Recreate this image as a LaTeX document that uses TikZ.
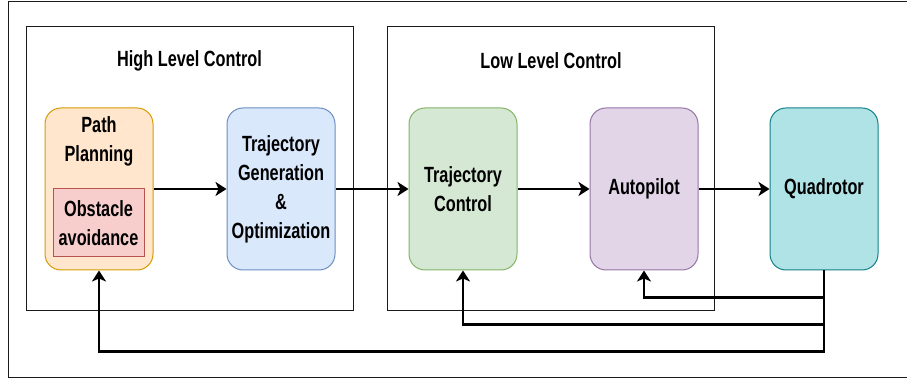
\documentclass[tikz,border=0pt]{standalone}
\usepackage{fontspec}
\setmainfont{Liberation Sans}[FakeStretch=0.74]
\usetikzlibrary{positioning,arrows.meta}
\definecolor{softorange}{HTML}{FFE6CC}
\definecolor{orange}{HTML}{D79B00}
\definecolor{softred}{HTML}{F8CECC}
\definecolor{red}{HTML}{B85450}
\definecolor{softblue}{HTML}{DAE8FC}
\definecolor{blue}{HTML}{6C8EBF}
\definecolor{softgreen}{HTML}{D5E8D4}
\definecolor{green}{HTML}{82B366}
\definecolor{softpurple}{HTML}{E1D5E7}
\definecolor{purple}{HTML}{9673A6}
\definecolor{softteal}{HTML}{B0E3E6}
\definecolor{teal}{HTML}{0E8088}
\definecolor{ink}{HTML}{1A1A1A}
\begin{document}
\begin{tikzpicture}[
  x=1pt,y=1pt,
  node distance=72pt,
  every node/.style={font=\bfseries\fontsize{22}{29}\selectfont,align=center,inner sep=0pt},
  frame/.style={draw=ink,line width=1pt,minimum width=327pt,minimum height=284pt},
  block/.style={rounded corners=16pt,line width=1pt,minimum width=108pt,minimum height=162pt},
  plan/.style={block,draw=orange,fill=softorange},
  obstacle/.style={draw=red,fill=softred,line width=1pt,minimum width=91pt,minimum height=68pt},
  gen/.style={block,draw=blue,fill=softblue},
  ctrl/.style={block,draw=green,fill=softgreen},
  pilot/.style={block,draw=purple,fill=softpurple},
  plant/.style={block,draw=teal,fill=softteal},
  arrow/.style={-{Stealth[length=11pt,width=14pt,inset=3pt]},line width=2.4pt,draw=black}
]
\useasboundingbox (0,0) rectangle (907,379);
\draw[draw=ink,line width=1pt] (8,1) rectangle (930,377);
% control groups
\node[frame] (high) at (189.5,210) {};
\node[frame] (low) at (551,210) {};
\node (hightitle) at ([yshift=-34pt]high.north) {High Level Control};
\node (lowtitle) at ([yshift=-34pt]low.north) {Low Level Control};
% blocks
\node[plan] (path) at (99,190) {};
\node (pathtext) at ([yshift=-34pt]path.north) {Path\\Planning};
\node[obstacle] (obst) at (98.5,156) {Obstacle\\avoidance};
\node[gen,right=73pt of path] (traj) {Trajectory\\Generation\\\&\\Optimization};
\node[ctrl,right=73pt of traj] (tctrl) {Trajectory\\Control};
\node[pilot,right=of tctrl] (auto) {Autopilot};
\node[plant,right=71pt of auto] (quad) {Quadrotor};
% forward path
\draw[arrow] (path) -- (traj);
\draw[arrow] (traj) -- (tctrl);
\draw[arrow] (tctrl) -- (auto);
\draw[arrow] (auto) -- (quad);
% feedback
\draw[arrow] (quad.south) -- ++(0,-27) -| (auto.south);
\draw[arrow] (quad.south) -- ++(0,-54) -| (tctrl.south);
\draw[arrow] (quad.south) -- ++(0,-81) -| (path.south);
\end{tikzpicture}
\end{document}
